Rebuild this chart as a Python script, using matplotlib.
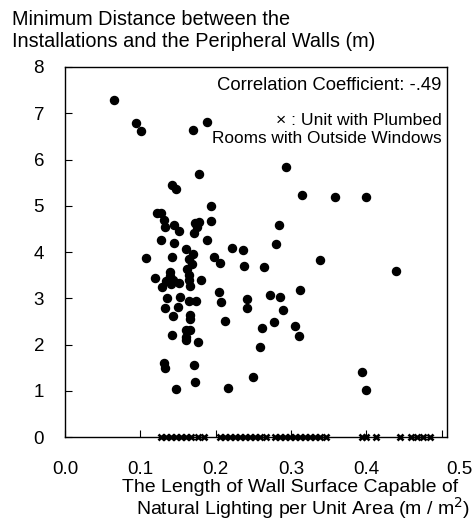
import matplotlib
matplotlib.use("Agg")
import matplotlib.pyplot as plt
import matplotlib.transforms as mtransforms

plt.rcParams["font.family"] = ["Liberation Sans", "DejaVu Sans"]
plt.rcParams["font.size"] = 13

# units with a measured minimum distance (dots)
dot_x = [0.065, 0.094, 0.101, 0.170, 0.189, 0.178, 0.142, 0.148, 0.194, 0.122,
         0.128, 0.132, 0.133, 0.145, 0.152, 0.172, 0.178, 0.175, 0.171, 0.194,
         0.127, 0.189, 0.145, 0.161, 0.170, 0.222, 0.236, 0.108, 0.142, 0.164,
         0.198, 0.206, 0.237, 0.168, 0.162, 0.139, 0.139, 0.164, 0.120, 0.134,
         0.144, 0.151, 0.141, 0.164, 0.166, 0.129, 0.181, 0.205, 0.207, 0.136,
         0.153, 0.164, 0.174, 0.133, 0.150, 0.143, 0.166, 0.166, 0.213, 0.241,
         0.242, 0.161, 0.166, 0.142, 0.160, 0.161, 0.176, 0.261, 0.259, 0.131,
         0.133, 0.171, 0.172, 0.147, 0.216, 0.249, 0.293, 0.314, 0.358, 0.400,
         0.284, 0.280, 0.339, 0.264, 0.439, 0.272, 0.286, 0.312, 0.290, 0.278,
         0.305, 0.310, 0.394, 0.399]
dot_y = [7.29, 6.78, 6.61, 6.64, 6.81, 5.69, 5.44, 5.37, 4.99, 4.84,
         4.84, 4.69, 4.53, 4.59, 4.45, 4.63, 4.65, 4.55, 4.42, 4.67,
         4.26, 4.27, 4.19, 4.06, 3.95, 4.09, 4.04, 3.86, 3.89, 3.84,
         3.89, 3.76, 3.70, 3.74, 3.64, 3.57, 3.49, 3.50, 3.44, 3.38,
         3.39, 3.32, 3.30, 3.39, 3.27, 3.25, 3.39, 3.14, 2.91, 3.00,
         3.02, 2.94, 2.93, 2.80, 2.81, 2.62, 2.64, 2.55, 2.51, 2.98,
         2.80, 2.31, 2.31, 2.21, 2.17, 2.10, 2.05, 2.35, 1.95, 1.59,
         1.50, 1.55, 1.20, 1.04, 1.07, 1.29, 5.84, 5.23, 5.20, 5.20,
         4.58, 4.18, 3.83, 3.67, 3.59, 3.08, 3.03, 3.17, 2.74, 2.49,
         2.39, 2.18, 1.41, 1.02]

# units with plumbed rooms with outside windows (x marks at 0)
cross_x = [0.127, 0.134, 0.141, 0.147, 0.154, 0.161, 0.167, 0.177, 0.185, 0.206,
           0.212, 0.219, 0.226, 0.232, 0.239, 0.246, 0.252, 0.259, 0.267, 0.279,
           0.286, 0.292, 0.299, 0.305, 0.312, 0.319, 0.325, 0.332, 0.339, 0.347,
           0.394, 0.400, 0.413, 0.444, 0.459, 0.467, 0.475, 0.485]
cross_y = [0] * len(cross_x)

x_ticks = [0.0, 0.1, 0.2, 0.3, 0.4, 0.5]
x_tick_labels = ["0.0", "0.1", "0.2", "0.3", "0.4", "0.5"]

fig = plt.figure(figsize=(4.74, 5.23), dpi=100)
ax = fig.add_axes([0.137, 0.1644, 0.806, 0.7075])

ax.plot(dot_x, dot_y, "o", color="black", ms=5.8, mec="black")
ax.plot(cross_x, cross_y, "x", color="black", ms=4.8, mew=1.9, clip_on=False, zorder=5)

ax.set_xlim(0, 0.507)
ax.set_ylim(0, 8)
ax.set_xticks(x_ticks)
ax.set_xticklabels(x_tick_labels)
ax.set_yticks(range(0, 9))
ax.tick_params(direction="in", length=5, width=0.8, labelsize=13.5, pad=15)
ax.tick_params(axis="x", pad=17)
for s in ax.spines.values():
    s.set_linewidth(1.0)

# the last x label sits a bit right of its tick in the original
lbl = ax.get_xticklabels()[-1]
lbl.set_transform(lbl.get_transform() + mtransforms.ScaledTranslation(18 / 100, 0, fig.dpi_scale_trans))

fig.text(0.025, 0.962, "Minimum Distance between the", fontsize=14.3, va="center")
fig.text(0.025, 0.920, "Installations and the Peripheral Walls (m)", fontsize=14.3, va="center")

ax.text(0.985, 0.951, "Correlation Coefficient: -.49", transform=ax.transAxes,
        ha="right", va="center", fontsize=13.3)
ax.text(0.985, 0.856, "\u00d7 : Unit with Plumbed", transform=ax.transAxes,
        ha="right", va="center", fontsize=12.6)
ax.text(0.985, 0.808, "Rooms with Outside Windows", transform=ax.transAxes,
        ha="right", va="center", fontsize=12.4)

fig.text(0.967, 0.067, "The Length of Wall Surface Capable of", ha="right", va="center", fontsize=14)
fig.text(0.992, 0.028, "Natural Lighting per Unit Area (m / m$^2$)", ha="right", va="center", fontsize=14)

fig.savefig("out.png", dpi=100)
